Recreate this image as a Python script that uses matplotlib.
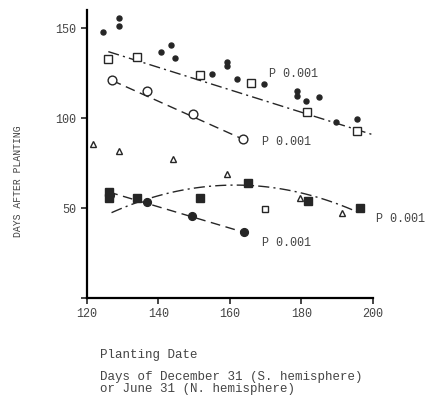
import matplotlib
matplotlib.use("Agg")
import matplotlib.pyplot as plt
import numpy as np

plt.rcParams['font.family'] = ['Liberation Mono', 'DejaVu Sans']

ink = '#262626'

# filled small dots
dot_x = [124.6, 129.0, 129.0, 140.7, 143.5, 144.6, 154.9, 159.2, 159.2, 161.9,
         169.5, 178.9, 178.9, 181.3, 184.9, 189.8, 195.5]
dot_y = [147.8, 155.6, 151.0, 137.0, 140.6, 133.7, 124.7, 131.5, 129.2, 121.9,
         119.1, 115.3, 112.4, 109.7, 112.0, 97.6, 99.5]

# open squares
osq_x = [126.0, 134.0, 151.6, 166.0, 181.5, 195.5]
osq_y = [133.0, 134.0, 123.8, 119.7, 103.5, 93.0]

# open circles
oci_x = [127.0, 136.9, 149.7, 163.7]
oci_y = [121.3, 115.3, 102.2, 88.2]

# triangles
tri_x = [121.7, 129.0, 144.1, 159.3, 179.6, 191.3]
tri_y = [85.4, 81.6, 77.4, 68.7, 55.8, 47.0]

# small open square
ssq_x = [169.8]
ssq_y = [49.3]

# filled squares
fsq_x = [126.2, 126.2, 134.1, 151.6, 165.1, 181.9, 196.4]
fsq_y = [59.2, 55.4, 55.4, 55.4, 63.9, 53.9, 50.2]

# filled circles
fci_x = [126.5, 136.7, 149.3, 164.0]
fci_y = [57.5, 53.5, 45.5, 36.7]

# trend lines
top_line_x = [126.0, 199.7]
top_line_y = [137.0, 91.0]
oci_line_x = [127.0, 164.0]
oci_line_y = [121.0, 88.0]
fci_line_x = [126.0, 164.0]
fci_line_y = [59.0, 36.5]
curve_x = [126.9, 146.0, 151.6, 160.9, 170.3, 179.6, 196.4]
curve_y = [48.0, 58.3, 61.0, 64.0, 62.4, 58.3, 47.0]

fig = plt.figure(figsize=(4.28, 4.11), dpi=100)
ax = fig.add_axes([0.203, 0.275, 0.668, 0.70])

ax.plot(top_line_x, top_line_y, color=ink, lw=1.0, dashes=(8, 3, 1.5, 3))
ax.plot(oci_line_x, oci_line_y, color=ink, lw=1.0, dashes=(7, 4))
ax.plot(fci_line_x, fci_line_y, color=ink, lw=1.0, dashes=(7, 4))
c = np.polyfit(curve_x, curve_y, 2)
cx = np.linspace(curve_x[0], curve_x[-1], 100)
ax.plot(cx, np.polyval(c, cx), color=ink, lw=1.0, dashes=(8, 3, 1.5, 3))

ax.plot(dot_x, dot_y, 'o', color=ink, ms=3.6, ls='none')
ax.plot(osq_x, osq_y, 's', mfc='white', mec=ink, mew=1.0, ms=5.8, ls='none')
ax.plot(oci_x, oci_y, 'o', mfc='white', mec=ink, mew=1.0, ms=6.3, ls='none')
ax.plot(tri_x, tri_y, '^', mfc='white', mec=ink, mew=1.0, ms=5, ls='none')
ax.plot(ssq_x, ssq_y, 's', mfc='white', mec=ink, mew=1.0, ms=4, ls='none')
ax.plot(fsq_x, fsq_y, 's', color=ink, ms=5.2, ls='none')
ax.plot(fci_x, fci_y, 'o', color=ink, ms=5.6, ls='none')

tfont = dict(fontsize=8.5, color='#444444')
ax.text(171, 124.5, 'P 0.001', va='center', **tfont)
ax.text(169, 87, 'P 0.001', va='center', **tfont)
ax.text(201, 44, 'P 0.001', va='center', clip_on=False, **tfont)
ax.text(169, 30.5, 'P 0.001', va='center', **tfont)

ax.set_xlim(120, 200)
ax.set_ylim(0, 160)
ax.set_xticks([120, 140, 160, 180, 200])
ax.set_yticks([0, 50, 100, 150], ['', '50', '100', '150'])
ax.spines['top'].set_visible(False)
ax.spines['right'].set_visible(False)
ax.spines['left'].set_linewidth(1.6)
ax.spines['bottom'].set_linewidth(1.6)
ax.tick_params(direction='out', length=4, width=1.2, labelsize=8.5,
               labelcolor='#444444', color=ink)

fig.text(0.042, 0.56, 'DAYS AFTER PLANTING', rotation=90, ha='center',
         va='center', fontsize=7, color='#444444')
fig.text(0.234, 0.136, 'Planting Date', fontsize=9, color='#444444',
         va='center')
fig.text(0.234, 0.083, 'Days of December 31 (S. hemisphere)', fontsize=9,
         color='#444444', va='center')
fig.text(0.234, 0.053, 'or June 31 (N. hemisphere)', fontsize=9,
         color='#444444', va='center')

plt.savefig('out.png', dpi=100)
